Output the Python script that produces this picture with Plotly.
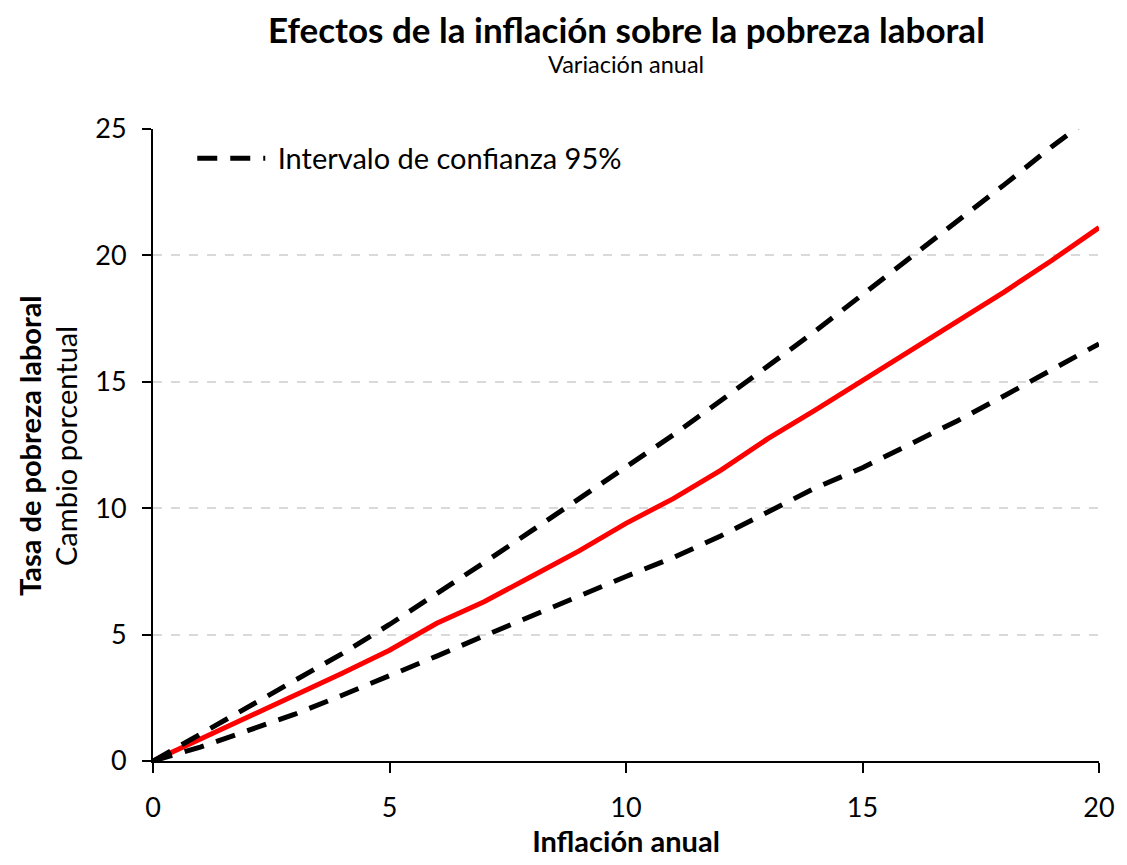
import plotly.graph_objects as go

# inflación anual (eje x)
inflacion = list(range(0, 21))

# efecto estimado sobre la tasa de pobreza laboral
efecto = [0, 0.85, 1.72, 2.6, 3.47, 4.38, 5.45, 6.3, 7.3, 8.3, 9.4,
          10.38, 11.5, 12.75, 13.88, 15.05, 16.2, 17.4, 18.56, 19.8, 21.1]

# intervalo de confianza 95%
ic_superior = [0, 1.05, 2.1, 3.15, 4.25, 5.4, 6.6, 7.85, 9.1, 10.35, 11.6,
               12.9, 14.25, 15.6, 17.0, 18.45, 19.9, 21.3, 22.8, 24.3, 25.7]
ic_inferior = [0, 0.55, 1.2, 1.85, 2.6, 3.35, 4.15, 4.95, 5.75, 6.5, 7.3,
               8.05, 8.9, 9.85, 10.8, 11.6, 12.5, 13.45, 14.45, 15.45, 16.5]

FONT = "Lato"
dash_style = "20px,13px"

fig = go.Figure()

fig.add_trace(go.Scatter(x=inflacion, y=efecto, mode="lines",
                         line=dict(color="#ff0000", width=5),
                         showlegend=False))
fig.add_trace(go.Scatter(x=inflacion, y=ic_superior, mode="lines",
                         name=" Intervalo de confianza 95%",
                         line=dict(color="black", width=5, dash=dash_style),
                         showlegend=True))
fig.add_trace(go.Scatter(x=inflacion, y=ic_inferior, mode="lines",
                         line=dict(color="black", width=5, dash=dash_style),
                         showlegend=False))

# the page body adds an 8px offset, so the figure is drawn 8px smaller
fig.update_layout(
    width=1119, height=857,
    margin=dict(l=145, r=28, t=121, b=104, autoexpand=False),
    paper_bgcolor="white", plot_bgcolor="white",
    font=dict(family=FONT, color="black", size=27),
    legend=dict(x=0.0415, y=0.994, xanchor="left", yanchor="top",
                itemwidth=68, bgcolor="rgba(0,0,0,0)", font=dict(size=29)),
)

# títulos como anotaciones
fig.add_annotation(text="<b>Efectos de la inflación sobre la pobreza laboral</b>",
                   xref="paper", yref="paper", x=0.5, y=1, yshift=100,
                   xanchor="center", yanchor="middle", showarrow=False,
                   font=dict(size=35))
fig.add_annotation(text="Variación anual",
                   xref="paper", yref="paper", x=0.5, y=1, yshift=65,
                   xanchor="center", yanchor="middle", showarrow=False,
                   font=dict(size=23.5))
fig.add_annotation(text="<b>Tasa de pobreza laboral</b>",
                   xref="paper", yref="paper", x=0, y=0.5, xshift=-124, yshift=-1,
                   xanchor="center", yanchor="middle", textangle=-90,
                   showarrow=False, font=dict(size=29))
fig.add_annotation(text="Cambio porcentual",
                   xref="paper", yref="paper", x=0, y=0.5, xshift=-88, yshift=-1,
                   xanchor="center", yanchor="middle", textangle=-90,
                   showarrow=False, font=dict(size=29))

fig.update_xaxes(range=[0, 20], tickvals=[0, 5, 10, 15, 20],
                 showline=True, linecolor="black", linewidth=2,
                 ticks="outside", ticklen=10, tickwidth=2, tickcolor="black",
                 ticklabelstandoff=12,
                 showgrid=False, zeroline=False, automargin=False,
                 title=dict(text="<b>Inflación anual</b>", standoff=8,
                            font=dict(size=29)))
fig.update_yaxes(range=[0, 25], tickvals=[0, 5, 10, 15, 20, 25],
                 showline=True, linecolor="black", linewidth=2,
                 ticks="outside", ticklen=9, tickwidth=2, tickcolor="black",
                 ticklabelstandoff=10,
                 showgrid=True, gridcolor="#d9d9d9", gridwidth=2, griddash="dash",
                 zeroline=False, automargin=False)

fig.write_html("out.html")
